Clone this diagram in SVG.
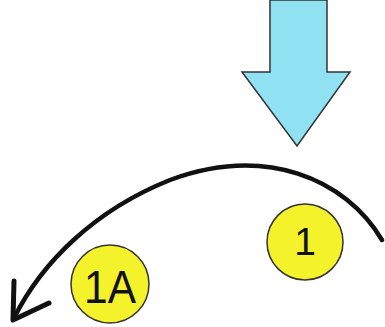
<svg xmlns="http://www.w3.org/2000/svg" width="385" height="327" viewBox="0 0 385 327">
<style>
.c{fill:#f4f22a;stroke:#333;stroke-width:1.5}
.t{font-family:"Liberation Sans",Arial,sans-serif;fill:#111;text-anchor:middle}
</style>
<rect width="385" height="327" fill="#fff"/>
<g id="force">
<polygon points="270,0 327,0 327,72 350,72 297,146 242,72 270,72" fill="#90e2f2" stroke="#333" stroke-width="1.5"/>
</g>
<g id="connectors">
<path d="M382,240 C345,178 265,145 170,180 C95,210 42,262 14,318" fill="none" stroke="#111" stroke-width="4.5" stroke-linecap="round"/>
<polyline points="14,281 13,320 49,303" fill="none" stroke="#111" stroke-width="5" stroke-linecap="round" stroke-linejoin="round"/>
</g>
<g id="n1">
<circle class="c" cx="305" cy="242" r="38"/>
<text class="t" x="305" y="255" font-size="39">1</text>
</g>
<g id="n1A">
<circle class="c" cx="110" cy="284" r="39"/>
<text class="t" x="110" y="303" font-size="46" textLength="52" lengthAdjust="spacingAndGlyphs">1A</text>
</g>
</svg>
